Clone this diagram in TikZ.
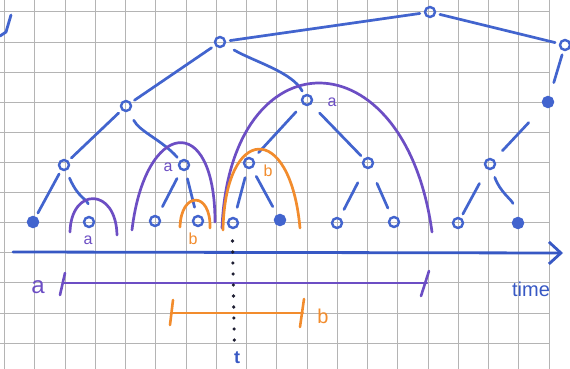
\documentclass[tikz,border=0pt]{standalone}
\usepackage{fontspec}
\setmainfont{Liberation Sans}
\usetikzlibrary{arrows.meta}
\definecolor{pen}{RGB}{66,100,206}
\definecolor{penax}{RGB}{55,88,196}
\definecolor{lil}{RGB}{108,78,196}
\definecolor{org}{RGB}{242,140,45}
\definecolor{gridc}{RGB}{180,180,180}
\definecolor{dotc}{RGB}{30,30,50}
\begin{document}
\begin{tikzpicture}[x=1pt,y=-1pt,
  tn/.style={circle,draw=pen,line width=2.4pt,inner sep=0pt,minimum size=10pt},
  tnf/.style={tn,fill=pen},
  edge/.style={draw=pen,line width=2.7pt,line cap=round,shorten <=4pt,shorten >=4pt},
  arcp/.style={draw=lil,line width=2.7pt,line cap=round},
  arco/.style={draw=org,line width=2.7pt,line cap=round},
  labp/.style={text=lil,inner sep=0pt,font=\fontsize{16}{16}\selectfont},
  labo/.style={text=org,inner sep=0pt,font=\fontsize{16}{16}\selectfont},
  gridline/.style={draw=gridc,line width=1pt}]
\fill[white] (0,0) rectangle (570,369);
\useasboundingbox (0,0) rectangle (570,369);
% grid paper
\foreach \i in {0,...,18} \draw[gridline] ({4.6+30.25*\i},0) -- ({4.6+30.25*\i},369);
\foreach \j in {0,...,11} \draw[gridline] (0,{12+30.1*\j}) -- (549,{12+30.1*\j});
% scribble top-left
\draw[pen,line width=2.8pt,line cap=round] (11,15) -- (6,32) -- (0,36);
% tree nodes
\node[tn] (root) at (430,12) {};
\node[tn] (L) at (220,42) {};
\node[tn] (R) at (565,45) {};
\node[tnf] (Rd) at (548,102) {};
\node[tn] (Rr) at (490,164) {};
\node[tn] (A) at (126,106) {};
\node[tn] (B) at (307,100) {};
\node[tn] (A1) at (64,165) {};
\node[tn] (A2) at (184,165) {};
\node[tn] (B1) at (249,163) {};
\node[tn] (B2) at (368,163) {};
\node[tnf] (l1) at (33,222) {};
\node[tn] (l2) at (89,222) {};
\node[tn] (l3) at (155,221) {};
\node[tn] (l4) at (198,221) {};
\node[tn] (l5) at (233,223) {};
\node[tnf] (l6) at (280,220) {};
\node[tn] (l7) at (337,223) {};
\node[tn] (l8) at (394,222) {};
\node[tn] (l9) at (458,223) {};
\node[tnf] (l10) at (518,223) {};
% tree edges
\draw[edge] (root) -- (L);
\draw[edge] (root) -- (R);
\draw[edge,shorten >=14pt] (R) -- (Rd);
\draw[edge,shorten <=22pt,shorten >=12pt] (Rd) -- (Rr);
\draw[edge,shorten <=16pt] (Rr) -- (l9);
\draw[edge,shorten <=8pt,shorten >=14pt] (Rr) .. controls (500,192) and (512,200) .. (l10);
\draw[edge] (L) -- (A);
\draw[edge,shorten <=10pt] (L) .. controls (255,62) and (292,72) .. (B);
\draw[edge] (A) -- (A1);
\draw[edge,shorten <=10pt] (A) .. controls (140,132) and (162,140) .. (A2);
\draw[edge] (A1) -- (l1);
\draw[edge,shorten <=8pt,shorten >=12pt] (A1) .. controls (78,198) and (88,200) .. (l2);
\draw[edge,shorten <=9pt,shorten >=10pt] (A2) -- (l3);
\draw[edge,shorten <=8pt,shorten >=8pt] (A2) -- (l4);
\draw[edge,shorten <=10pt,shorten >=8pt] (B) -- (B1);
\draw[edge,shorten <=12pt,shorten >=4pt] (B) -- (B2);
\draw[edge,shorten <=9pt,shorten >=10pt] (B1) -- (l5);
\draw[edge,shorten <=9pt,shorten >=9pt] (B1) -- (l6);
\draw[edge,shorten <=16pt,shorten >=9pt] (B2) -- (l7);
\draw[edge,shorten <=16pt,shorten >=9pt] (B2) -- (l8);
% purple arcs
\draw[arcp] (70,232) .. controls (71,187) and (116,187) .. (117,235);
\draw[arcp] (132,230) .. controls (145,120) and (215,110) .. (215,222);
\draw[arcp] (222,228) .. controls (230,34) and (405,34) .. (432,232);
% orange arcs
\draw[arco] (180,227) .. controls (181,191) and (211,191) .. (210,228);
\draw[arco] (223,230) .. controls (225,125) and (290,120) .. (300,228);
% labels in tree
\node[labp] (la1) at (88,240) {a};
\node[labp] (la2) at (168,167) {a};
\node[labp] (la3) at (332,102) {a};
\node[labo] (lb1) at (193,239) {b};
\node[labo] (lb2) at (268,171) {b};
% time axis
\coordinate (ax0) at (13,252);
\coordinate (ax1) at (563,253);
\draw[penax,line width=2.8pt,line cap=round,-{Straight Barb[length=12pt,width=22pt]}] (ax0) -- (ax1);
\node[text=penax,inner sep=0pt,font=\fontsize{20}{20}\selectfont] (time) at (531,289) {time};
% interval a
\coordinate (pa0) at (63,283);
\coordinate (pa1) at (427,283);
\draw[lil,line width=2.6pt,line cap=round] (pa0) -- (pa1);
\draw[lil,line width=2.6pt,line cap=round] (65,273) -- (60,295);
\draw[lil,line width=2.6pt,line cap=round] (429,271) -- (421,296);
\node[text=lil,inner sep=0pt,font=\fontsize{24}{24}\selectfont] (ia) at (38,287) {a};
% interval b
\coordinate (pb0) at (172,313);
\coordinate (pb1) at (303,313);
\draw[org,line width=2.6pt,line cap=round] (pb0) -- (pb1);
\draw[org,line width=2.6pt,line cap=round] (173,300) -- (170,325);
\draw[org,line width=2.6pt,line cap=round] (304,299) -- (300,327);
\node[text=org,inner sep=0pt,font=\fontsize{20}{20}\selectfont] (ib) at (323,316) {b};
% dotted line t
\foreach \k in {0,...,9} \fill[dotc] ({232.5+0.2*\k},{241+11*\k}) circle (1.8);
\node[text=penax,inner sep=0pt,font=\fontsize{18}{18}\selectfont\bfseries] (tt) at (237,358) {t};
\end{tikzpicture}
\end{document}
